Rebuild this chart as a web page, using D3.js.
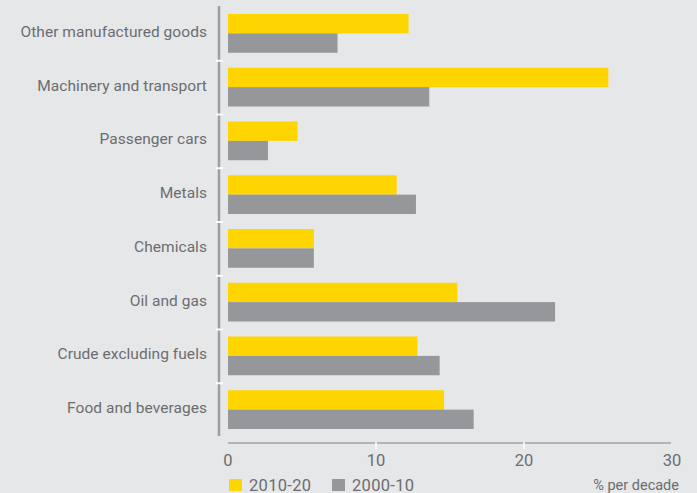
<!DOCTYPE html>
<html>
<head>
<meta charset="utf-8">
<script src="https://cdn.jsdelivr.net/npm/d3@7"></script>
<style>
  html, body { margin: 0; padding: 0; background: #e6e7e9; }
  svg { display: block; }
  text { font-family: Roboto, "DejaVu Sans", sans-serif; font-weight: 400; fill: #6c6d70; }
</style>
</head>
<body>
<svg id="chart" width="697" height="493"></svg>
<script>
// Export growth by product group, % per decade
const categories = [
  "Other manufactured goods",
  "Machinery and transport",
  "Passenger cars",
  "Metals",
  "Chemicals",
  "Oil and gas",
  "Crude excluding fuels",
  "Food and beverages"
];
const series2010 = [12.2, 25.7, 4.7, 11.4, 5.8, 15.5, 12.8, 14.6];
const series2000 = [7.4, 13.6, 2.7, 12.7, 5.8, 22.1, 14.3, 16.6];
const seriesNames = ["2010-20", "2000-10"];
const xTicks = [0, 10, 20, 30];
const unitLabel = "% per decade";

const colors = ["#ffd500", "#96979b"];

const svg = d3.select("#chart");
svg.append("rect").attr("width", 697).attr("height", 493).attr("fill", "#e6e7e9");

const x = d3.scaleLinear().domain([0, 30]).range([228, 672]);
const y = d3.scaleBand().domain(categories).range([7, 437]).paddingInner(0).paddingOuter(0);
const inner = d3.scaleBand().domain(seriesNames).range([7, y.bandwidth() - 8]);

// category axis line
svg.append("line")
  .attr("x1", 219).attr("x2", 219)
  .attr("y1", 6).attr("y2", 436)
  .attr("stroke", "#9d9ea1").attr("stroke-width", 2.5);

// white separators between categories
const seps = categories.slice(1).map(c => y(c));
svg.selectAll("line.sep").data(seps).enter().append("line")
  .attr("class", "sep")
  .attr("x1", 216).attr("x2", 223)
  .attr("y1", d => d).attr("y2", d => d)
  .attr("stroke", "#ffffff").attr("stroke-width", 2);

// category labels
svg.selectAll("text.cat").data(categories).enter().append("text")
  .attr("class", "cat")
  .attr("x", 207)
  .attr("y", d => y(d) + y.bandwidth() / 2 - 2.5)
  .attr("dy", "0.35em")
  .attr("text-anchor", "end")
  .attr("font-size", 15.5)
  .attr("letter-spacing", 0.05)
  .text(d => d);

// bars
const groups = svg.selectAll("g.cat").data(categories).enter().append("g")
  .attr("transform", d => `translate(0,${y(d)})`);
groups.append("rect")
  .attr("x", x(0))
  .attr("y", inner(seriesNames[0]))
  .attr("height", inner.bandwidth())
  .attr("width", (d, i) => x(series2010[i]) - x(0))
  .attr("fill", colors[0]);
groups.append("rect")
  .attr("x", x(0))
  .attr("y", inner(seriesNames[1]))
  .attr("height", inner.bandwidth())
  .attr("width", (d, i) => x(series2000[i]) - x(0))
  .attr("fill", colors[1]);

// value axis
const axisG = svg.append("g").attr("transform", "translate(0,443)");
axisG.append("line")
  .attr("x1", x(0)).attr("x2", x(30) - 1)
  .attr("stroke", "#a3a4a7").attr("stroke-width", 1.5);
axisG.selectAll("line.tick").data(xTicks.filter(t => t > 0 && t < 30)).enter().append("line")
  .attr("class", "tick")
  .attr("x1", d => x(d)).attr("x2", d => x(d))
  .attr("y1", -1).attr("y2", 6)
  .attr("stroke", "#ffffff").attr("stroke-width", 1.5);
axisG.selectAll("text").data(xTicks).enter().append("text")
  .attr("x", d => x(d))
  .attr("y", 23)
  .attr("text-anchor", "middle")
  .attr("font-size", 16.5)
  .text(d => d);

// legend
const legend = svg.append("g").attr("transform", "translate(229,479)");
const legendX = [0, 103];
seriesNames.forEach((name, i) => {
  legend.append("rect")
    .attr("x", legendX[i]).attr("y", 0)
    .attr("width", 13).attr("height", 12)
    .attr("fill", colors[i]);
  legend.append("text")
    .attr("x", legendX[i] + 20).attr("y", 11.5)
    .attr("font-size", 16.5)
    .attr("letter-spacing", 0.3)
    .text(name);
});
svg.append("text")
  .attr("x", 679).attr("y", 490)
  .attr("text-anchor", "end")
  .attr("font-size", 14.5)
  .text(unitLabel);
</script>
</body>
</html>
